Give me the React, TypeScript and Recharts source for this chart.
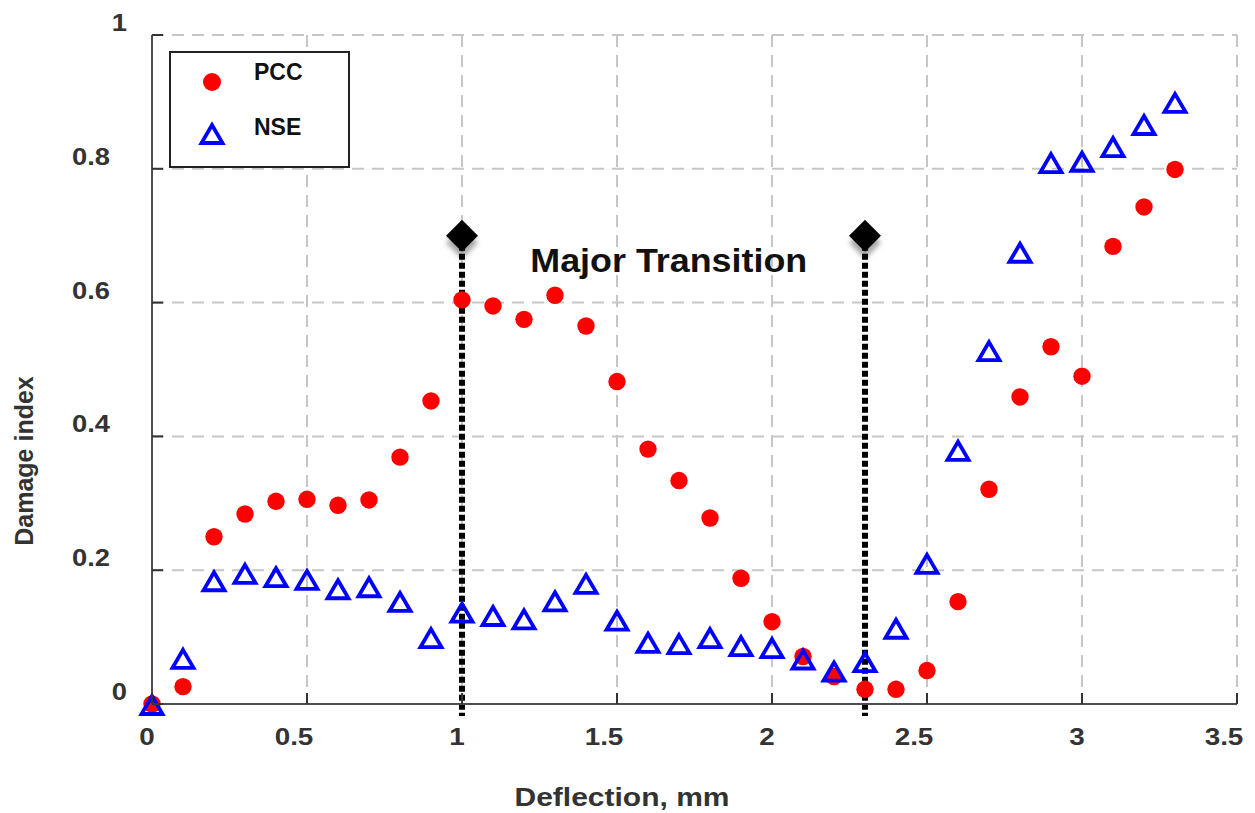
import React from 'react';
import {
  ScatterChart,
  Scatter,
  XAxis,
  YAxis,
  CartesianGrid,
  ReferenceLine,
  ReferenceDot,
  Legend,
} from 'recharts';

// Deflection steps (mm)
const DEFLECTION = [
  0, 0.1, 0.2, 0.3, 0.4, 0.5, 0.6, 0.7, 0.8, 0.9,
  1.0, 1.1, 1.2, 1.3, 1.4, 1.5, 1.6, 1.7, 1.8, 1.9,
  2.0, 2.1, 2.2, 2.3, 2.4, 2.5, 2.6, 2.7, 2.8, 2.9,
  3.0, 3.1, 3.2, 3.3,
];

// Damage index based on the Pearson correlation coefficient
const PCC = [
  0, 0.026, 0.25, 0.284, 0.303, 0.306, 0.297, 0.305, 0.369, 0.453,
  0.604, 0.595, 0.575, 0.611, 0.565, 0.482, 0.381, 0.334, 0.278, 0.188,
  0.123, 0.071, 0.041, 0.022, 0.022, 0.05, 0.153, 0.321, 0.459, 0.534,
  0.49, 0.684, 0.743, 0.799,
];

// Damage index based on the Nash–Sutcliffe efficiency
const NSE = [
  0, 0.069, 0.185, 0.196, 0.191, 0.187, 0.173, 0.176, 0.154, 0.1,
  0.138, 0.133, 0.128, 0.155, 0.181, 0.126, 0.093, 0.091, 0.1, 0.088,
  0.085, 0.068, 0.05, 0.064, 0.114, 0.211, 0.38, 0.529, 0.676, 0.81,
  0.812, 0.834, 0.867, 0.9,
];

const X_TICKS = [0, 0.5, 1, 1.5, 2, 2.5, 3, 3.5];
const Y_TICKS = [0, 0.2, 0.4, 0.6, 0.8, 1];

// Transition markers
const TRANSITION_X = [1.0, 2.3];
const TRANSITION_Y = 0.7;
const TRANSITION_FOOT = -0.018;
const ANNOTATION = { x: 1.667, y: 0.646, text: 'Major Transition' };

const SERIES_NAMES = ['PCC', 'NSE'];

const pccData = DEFLECTION.map((x, i) => ({ x, y: PCC[i] }));
const nseData = DEFLECTION.map((x, i) => ({ x, y: NSE[i] }));
const transitionData = TRANSITION_X.map((x) => ({ x, y: TRANSITION_Y }));

const FONT = '"Liberation Sans", Arial, Helvetica, sans-serif';
const PLOT_LEFT = 152;
const PLOT_BOTTOM = 704;
const RED = '#ff0000';
const BLUE = '#0000ff';

const trianglePath = (cx: number, cy: number) =>
  `M${cx},${cy - 8} L${cx + 10.5},${cy + 10} L${cx - 10.5},${cy + 10} Z`;

const RedDot = (p: any) => <circle cx={p.cx} cy={p.cy} r={8.7} fill={RED} />;

const BlueTriangle = (p: any) => (
  <path d={trianglePath(p.cx, p.cy)} fill="none" stroke={BLUE} strokeWidth={3.8} />
);

const Diamond = (p: any) => {
  const { cx, cy } = p;
  const h = 16;
  return (
    <g>
      <defs>
        <filter id="diamondShadow" x="-50%" y="-50%" width="200%" height="200%">
          <feDropShadow dx="0" dy="7" stdDeviation="2.5" floodColor="#000" floodOpacity="0.35" />
        </filter>
      </defs>
      <path
        d={`M${cx},${cy - h} L${cx + h},${cy} L${cx},${cy + h} L${cx - h},${cy} Z`}
        fill="#000"
        filter="url(#diamondShadow)"
      />
    </g>
  );
};

const XTick = (props: any) => {
  const { x, payload } = props;
  const label = String(payload.value);
  const dx = label.includes('.') ? -13 : -5;
  return (
    <g>
      <line x1={x} x2={x} y1={PLOT_BOTTOM} y2={PLOT_BOTTOM - 11} stroke="#333" strokeWidth={2} />
      <text
        transform={`translate(${x + dx}, 745) scale(1.16, 1)`}
        textAnchor="middle"
        fontFamily={FONT}
        fontWeight="bold"
        fontSize={24}
        fill="#333"
      >
        {label}
      </text>
    </g>
  );
};

const YTick = (props: any) => {
  const { y, payload } = props;
  const label = String(payload.value);
  const endX = label.includes('.') ? 110 : 127;
  return (
    <g>
      <line x1={PLOT_LEFT} x2={PLOT_LEFT + 11} y1={y} y2={y} stroke="#333" strokeWidth={2} />
      <text
        transform={`translate(${endX}, ${y - 4}) scale(1.14, 1)`}
        textAnchor="end"
        fontFamily={FONT}
        fontWeight="bold"
        fontSize={24}
        fill="#333"
      >
        {label}
      </text>
    </g>
  );
};

const XTitle = () => (
  <text
    x={622}
    y={806}
    textAnchor="middle"
    fontFamily={FONT}
    fontWeight="bold"
    fontSize={25}
    fill="#333"
    textLength={215}
    lengthAdjust="spacingAndGlyphs"
  >
    Deflection, mm
  </text>
);

const YTitle = () => (
  <text
    transform="translate(33, 461) rotate(-90)"
    textAnchor="middle"
    fontFamily={FONT}
    fontWeight="bold"
    fontSize={25}
    fill="#333"
  >
    Damage index
  </text>
);

const AnnotationText = (props: any) => {
  const vb = props.viewBox || {};
  return (
    <text
      x={vb.x}
      y={vb.y}
      textAnchor="middle"
      fontFamily={FONT}
      fontWeight="bold"
      fontSize={34}
      fill="#111"
      textLength={277}
      lengthAdjust="spacingAndGlyphs"
    >
      {ANNOTATION.text}
    </text>
  );
};

const LegendBox = () => (
  <svg width={182} height={118} style={{ display: 'block' }}>
    <rect x={1} y={1} width={179} height={115} fill="#fff" stroke="#222" strokeWidth={2} />
    <circle cx={43} cy={31} r={9} fill={RED} />
    <text x={85} y={29} fontFamily={FONT} fontWeight="bold" fontSize={23} fill="#111">
      {SERIES_NAMES[0]}
    </text>
    <path d={trianglePath(43, 82)} fill="none" stroke={BLUE} strokeWidth={3.8} />
    <text x={85} y={84} fontFamily={FONT} fontWeight="bold" fontSize={23} fill="#111">
      {SERIES_NAMES[1]}
    </text>
  </svg>
);

export default function App() {
  return (
    <div style={{ position: 'absolute', left: 0, top: 0, background: '#fff' }}>
      <ScatterChart width={1255} height={813} margin={{ top: 35, right: 18, bottom: 0, left: 0 }}>
        <CartesianGrid stroke="#c6c6c6" strokeWidth={2} strokeDasharray="12 8" />
        <XAxis
          type="number"
          dataKey="x"
          domain={[0, 3.5]}
          ticks={X_TICKS}
          height={109}
          axisLine={{ stroke: '#4d4d4d', strokeWidth: 2 }}
          tickLine={false}
          tick={<XTick />}
          label={{ content: <XTitle /> }}
        />
        <YAxis
          type="number"
          dataKey="y"
          domain={[0, 1]}
          ticks={Y_TICKS}
          width={152}
          axisLine={{ stroke: '#4d4d4d', strokeWidth: 2 }}
          tickLine={false}
          tick={<YTick />}
          label={{ content: <YTitle /> }}
        />
        <Legend
          verticalAlign="middle"
          align="center"
          layout="horizontal"
          content={<LegendBox />}
          wrapperStyle={{ left: 169, top: 51, width: 182, height: 118 }}
        />
        <Scatter name={SERIES_NAMES[0]} data={pccData} shape={RedDot} isAnimationActive={false} />
        <Scatter name={SERIES_NAMES[1]} data={nseData} shape={BlueTriangle} isAnimationActive={false} />
        {TRANSITION_X.map((t) => (
          <ReferenceLine
            key={t}
            segment={[
              { x: t, y: TRANSITION_Y },
              { x: t, y: TRANSITION_FOOT },
            ]}
            stroke="#000"
            strokeWidth={6}
            strokeDasharray="6 3"
            ifOverflow="visible"
          />
        ))}
        <Scatter name="transition" data={transitionData} shape={Diamond} isAnimationActive={false} legendType="none" />
        <ReferenceDot
          x={ANNOTATION.x}
          y={ANNOTATION.y}
          r={0}
          fill="none"
          stroke="none"
          ifOverflow="visible"
          label={<AnnotationText />}
        />
      </ScatterChart>
    </div>
  );
}
